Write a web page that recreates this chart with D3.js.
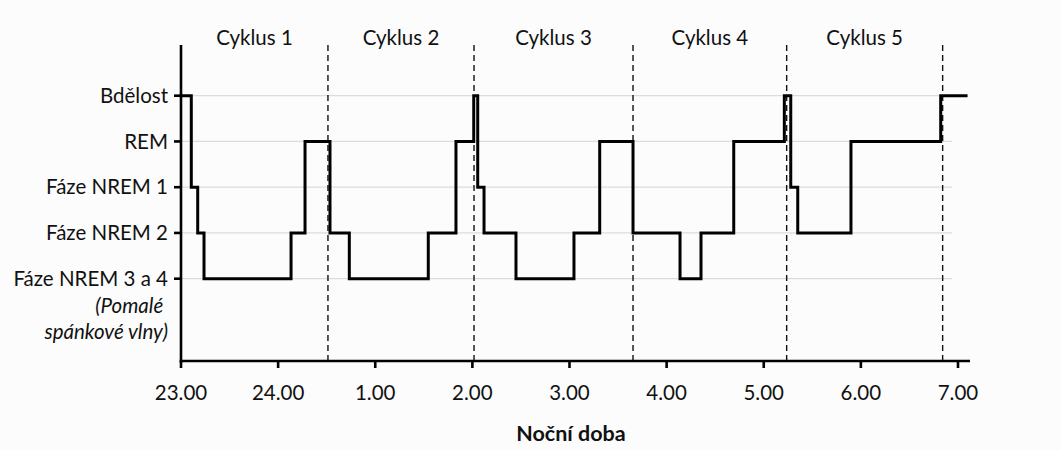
<!DOCTYPE html>
<html>
<head>
<meta charset="utf-8">
<script src="https://cdn.jsdelivr.net/npm/d3@7"></script>
<style>
  html, body { margin: 0; padding: 0; background: #fcfcfc; }
  svg { display: block; font-family: Lato, "Noto Sans", sans-serif; }
</style>
</head>
<body>
<svg id="chart" width="1061" height="450"></svg>
<script>
// ---- data ----
const stages = ["Bdělost", "REM", "Fáze NREM 1", "Fáze NREM 2", "Fáze NREM 3 a 4"];
const stageNote = ["(Pomalé ", "spánkové vlny)"];
// hours after 23.00 expressed as 23..31 (24 = midnight)
const stepTimes = [23.00, 23.106, 23.172, 23.237, 24.133, 24.277, 24.534, 24.733,
  25.546, 25.831, 26.014, 26.055, 26.120, 26.449, 27.046, 27.311, 27.654, 28.138,
  28.354, 28.691, 29.212, 29.278, 29.350, 29.898, 30.822, 31.083];
const stepStages = ["Bdělost", "Fáze NREM 1", "Fáze NREM 2", "Fáze NREM 3 a 4", "Fáze NREM 2",
  "REM", "Fáze NREM 2", "Fáze NREM 3 a 4", "Fáze NREM 2", "REM", "Bdělost", "Fáze NREM 1",
  "Fáze NREM 2", "Fáze NREM 3 a 4", "Fáze NREM 2", "REM", "Fáze NREM 2", "Fáze NREM 3 a 4",
  "Fáze NREM 2", "REM", "Bdělost", "Fáze NREM 1", "Fáze NREM 2", "REM", "Bdělost", "Bdělost"];
const cycleLabels = ["Cyklus 1", "Cyklus 2", "Cyklus 3", "Cyklus 4", "Cyklus 5"];
const cycleEnds = [24.513, 26.017, 27.654, 29.236, 30.842];
const tickValues = [23, 24, 25, 26, 27, 28, 29, 30, 31];
const tickLabels = ["23.00", "24.00", "1.00", "2.00", "3.00", "4.00", "5.00", "6.00", "7.00"];
const xTitle = "Noční doba";

// ---- layout ----
const svg = d3.select("#chart");
const x0 = 181, x1 = 958, xEnd = 970;
const x = d3.scaleLinear().domain([23, 31]).range([x0, x1]);
const yTop = 45, yBottom = 361;
const yIdx = d3.scaleLinear().domain([0, 4]).range([95.7, 278.7]);
const y = s => yIdx(stages.indexOf(s));
const ink = "#111";
const fs = 20.5;

// gridlines
svg.append("g").selectAll("line").data(stages).join("line")
  .attr("x1", x0).attr("x2", x(30.94))
  .attr("y1", d => y(d)).attr("y2", d => y(d))
  .attr("stroke", "#dcdcdc").attr("stroke-width", 1.2);

// cycle dashed lines
svg.append("g").selectAll("line").data(cycleEnds).join("line")
  .attr("x1", d => x(d)).attr("x2", d => x(d))
  .attr("y1", yTop).attr("y2", yBottom)
  .attr("stroke", ink).attr("stroke-width", 1.4)
  .attr("stroke-dasharray", "6,4");

// cycle labels
const cycleStarts = [23].concat(cycleEnds.slice(0, -1));
svg.append("g").selectAll("text").data(cycleLabels).join("text")
  .attr("x", (d, i) => (x(cycleStarts[i]) + x(cycleEnds[i])) / 2)
  .attr("y", 45)
  .attr("text-anchor", "middle")
  .attr("font-size", fs).attr("fill", ink)
  .text(d => d);

// hypnogram
const pts = stepTimes.map((t, i) => [x(t), y(stepStages[i])]);
svg.append("path")
  .attr("d", d3.line().curve(d3.curveStepAfter)(pts))
  .attr("fill", "none").attr("stroke", "#000").attr("stroke-width", 3)
  .attr("stroke-linejoin", "miter").attr("stroke-linecap", "square");

// y axis
const yAxis = svg.append("g");
yAxis.append("line").attr("x1", x0).attr("x2", x0).attr("y1", yTop).attr("y2", yBottom + 1.5)
  .attr("stroke", "#000").attr("stroke-width", 2.6);
yAxis.selectAll("line.tick").data(stages).join("line").attr("class", "tick")
  .attr("x1", x0 - 7).attr("x2", x0).attr("y1", d => y(d)).attr("y2", d => y(d))
  .attr("stroke", "#000").attr("stroke-width", 2.6);
yAxis.selectAll("text.lab").data(stages).join("text").attr("class", "lab")
  .attr("x", 168).attr("y", d => y(d)).attr("dy", "0.35em")
  .attr("text-anchor", "end").attr("font-size", fs).attr("fill", ink)
  .text(d => d);
yAxis.selectAll("text.note").data(stageNote).join("text").attr("class", "note")
  .attr("x", 168).attr("y", (d, i) => y(stages[4]) + 27 + i * 26).attr("dy", "0.35em")
  .attr("text-anchor", "end").attr("font-size", fs).attr("font-style", "italic").attr("fill", ink)
  .attr("xml:space", "preserve")
  .text(d => d);

// x axis
const xAxis = svg.append("g");
xAxis.append("line").attr("x1", x0 - 1.3).attr("x2", xEnd).attr("y1", yBottom).attr("y2", yBottom)
  .attr("stroke", "#000").attr("stroke-width", 2.6);
xAxis.selectAll("line.tick").data(tickValues).join("line").attr("class", "tick")
  .attr("x1", d => x(d)).attr("x2", d => x(d)).attr("y1", yBottom).attr("y2", yBottom + 7)
  .attr("stroke", "#000").attr("stroke-width", 2.6);
xAxis.selectAll("text").data(tickValues).join("text")
  .attr("x", d => x(d)).attr("y", 393).attr("dy", "0.35em")
  .attr("text-anchor", "middle").attr("font-size", fs).attr("fill", ink)
  .text((d, i) => tickLabels[i]);
svg.append("text").attr("x", 571).attr("y", 433).attr("dy", "0.35em")
  .attr("text-anchor", "middle").attr("font-size", 21.5).attr("font-weight", "bold").attr("fill", ink)
  .text(xTitle);
</script>
</body>
</html>
